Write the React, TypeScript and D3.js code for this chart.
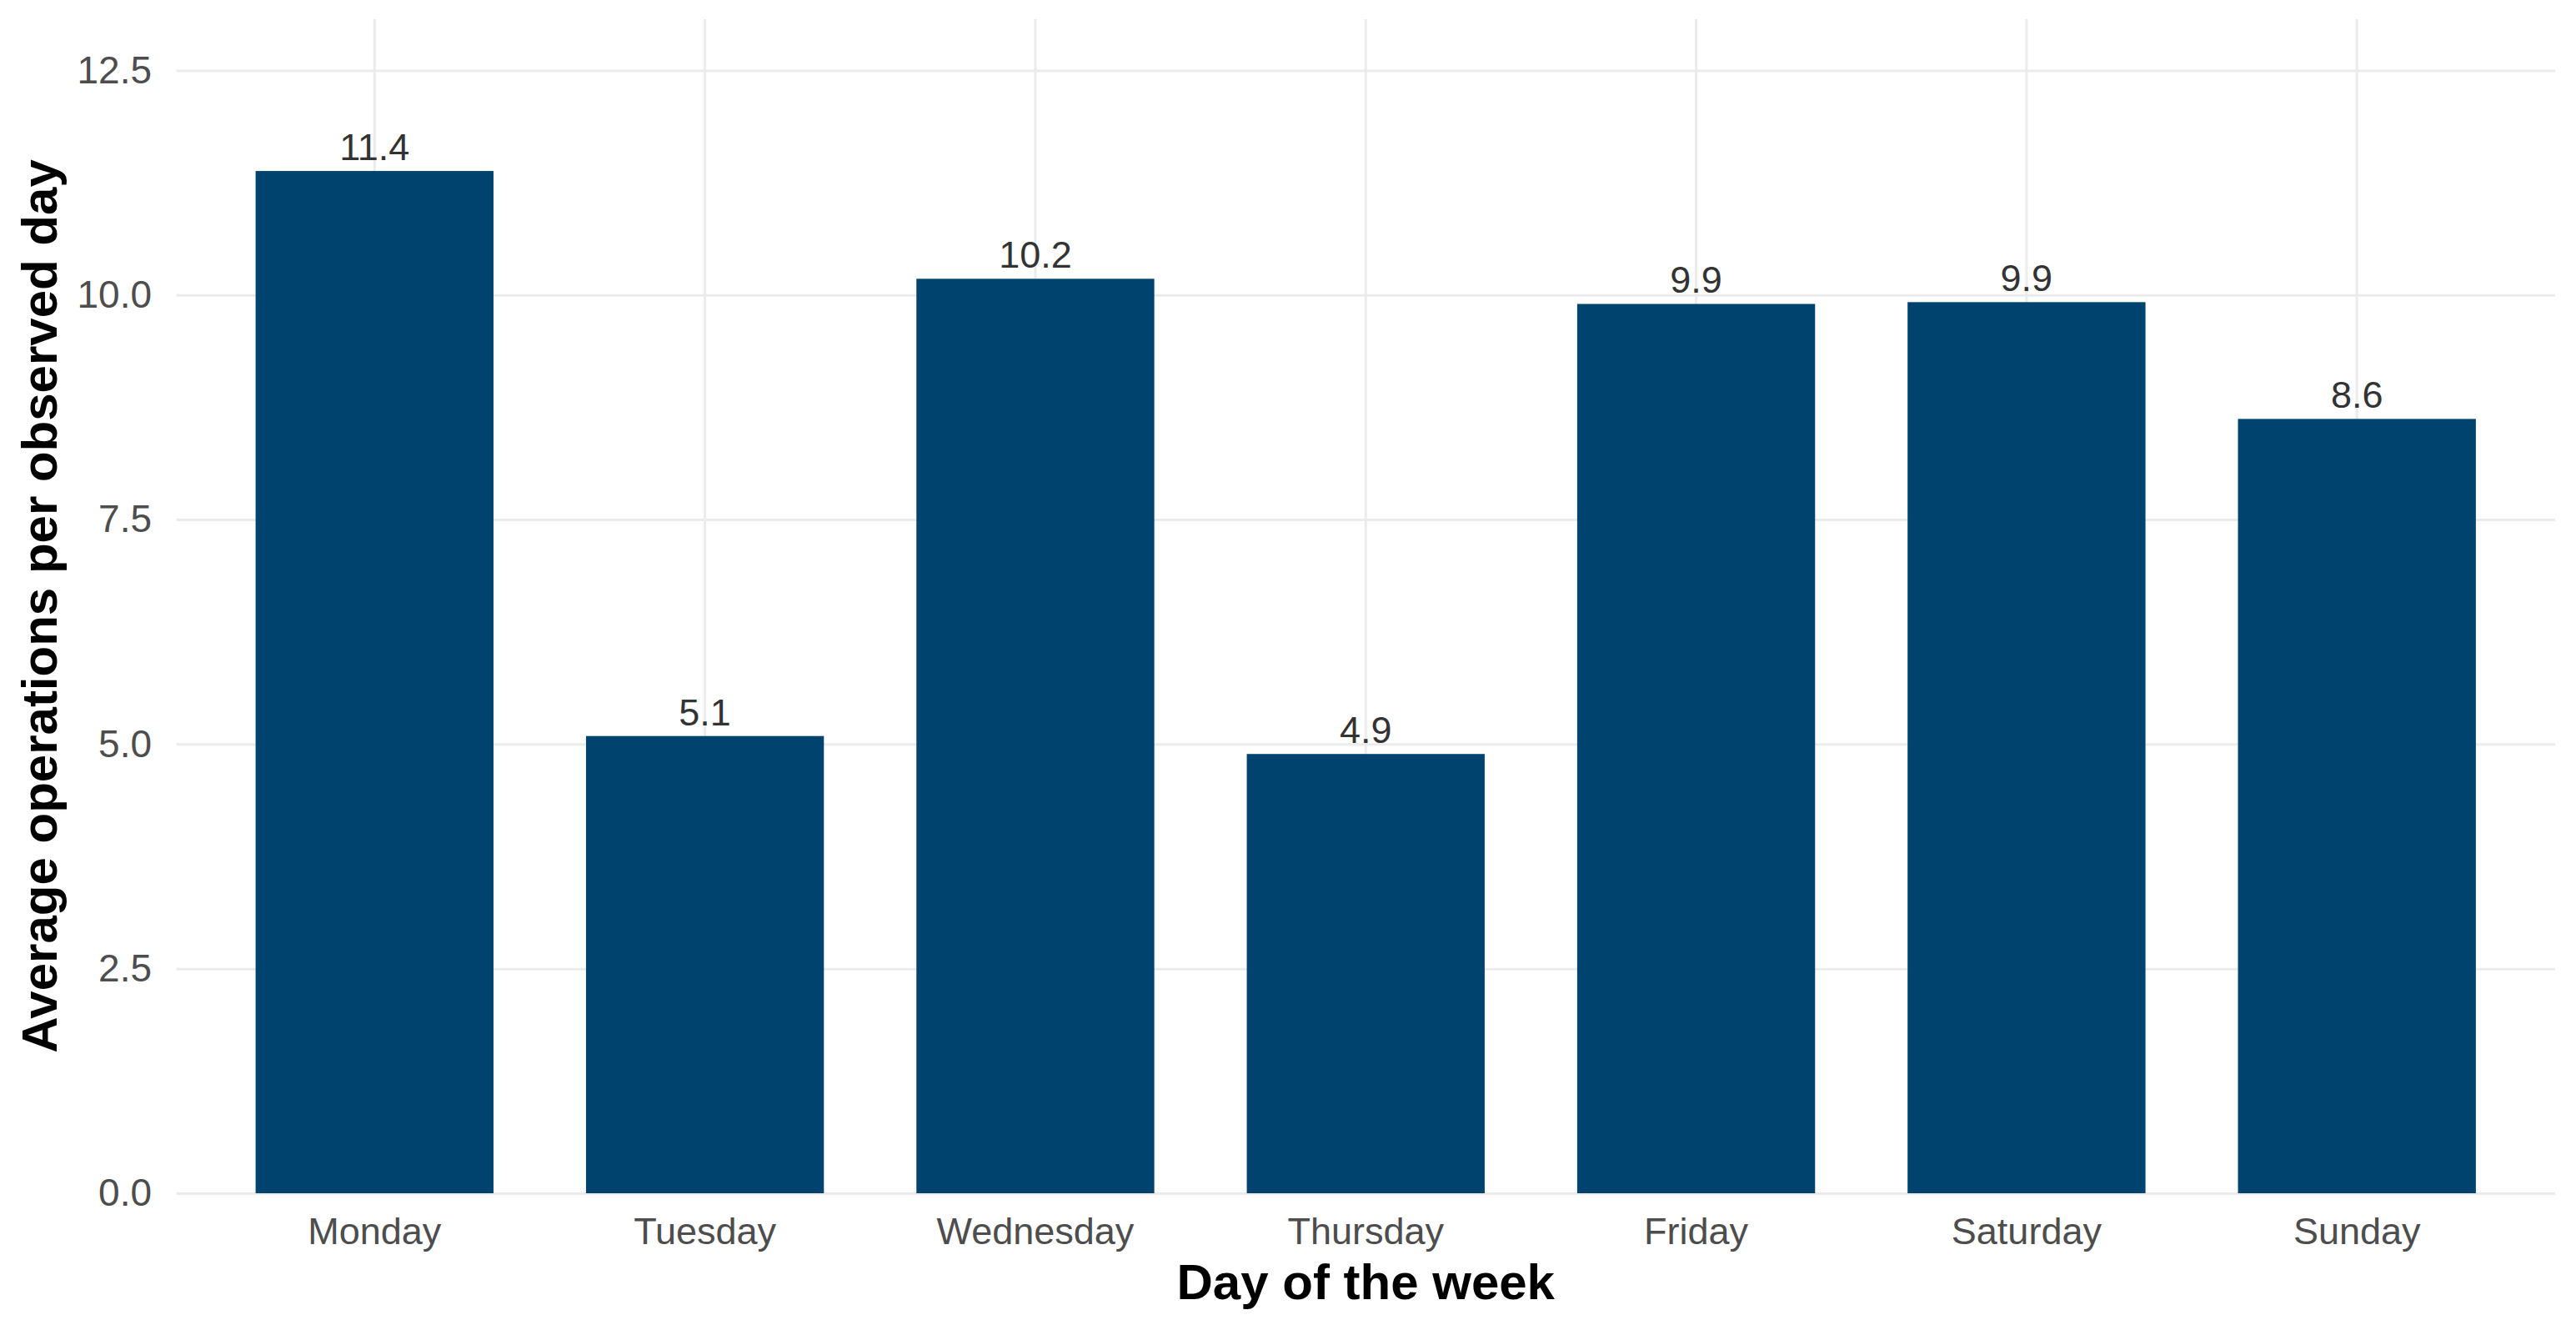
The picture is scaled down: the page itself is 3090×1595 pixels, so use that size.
import React, { useEffect, useRef } from 'react';
import * as d3 from 'd3';

// Chart data
const days: string[] = ['Monday', 'Tuesday', 'Wednesday', 'Thursday', 'Friday', 'Saturday', 'Sunday'];
const avgOperations: number[] = [11.38, 5.09, 10.18, 4.89, 9.9, 9.92, 8.62];
const yTicks: number[] = [0, 2.5, 5, 7.5, 10, 12.5];

const App: React.FC = () => {
  const chartRef = useRef<SVGSVGElement | null>(null);

  useEffect(() => {
    document.body.style.margin = '0';
    const svgEl = d3.select(chartRef.current);
    svgEl.selectAll('*').remove();

    const width = 3090;
    const height = 1595;
    const panel = { left: 211.5, right: 3065, top: 23, bottom: 1431 };
    const font = '"Liberation Sans", Arial, sans-serif';

    svgEl.attr('width', width).attr('height', height).style('display', 'block');
    svgEl.append('rect').attr('width', width).attr('height', height).attr('fill', '#ffffff');

    const xScale = d3
      .scaleBand()
      .domain(days)
      .range([panel.left, panel.right])
      .paddingInner(0.28)
      .paddingOuter(0.24);

    const yScale = d3.scaleLinear().domain([0, 13.07]).range([panel.bottom, panel.top]);

    // Y axis with horizontal gridlines
    const yAxis = d3
      .axisLeft(yScale)
      .tickValues(yTicks)
      .tickSize(-(panel.right - panel.left))
      .tickPadding(29.5)
      .tickFormat((d) => d3.format('.1f')(d as number));

    const gy = svgEl.append('g').attr('transform', `translate(${panel.left},0)`).call(yAxis);
    gy.select('.domain').remove();
    gy.selectAll('line').attr('stroke', '#ebebeb').attr('stroke-width', 3);
    gy.selectAll('text')
      .attr('fill', '#4d4d4d')
      .style('font-family', font)
      .style('font-size', '46px');

    // X axis with vertical gridlines
    const xAxis = d3
      .axisBottom(xScale)
      .tickSize(-(panel.bottom - panel.top))
      .tickPadding(29);

    const gx = svgEl.append('g').attr('transform', `translate(0,${panel.bottom})`).call(xAxis);
    gx.select('.domain').remove();
    gx.selectAll('line').attr('stroke', '#ebebeb').attr('stroke-width', 3);
    gx.selectAll('text')
      .attr('fill', '#4d4d4d')
      .style('font-family', font)
      .style('font-size', '45px');

    // Bars
    svgEl
      .selectAll('.bar')
      .data(days)
      .enter()
      .append('rect')
      .attr('class', 'bar')
      .attr('x', (d) => xScale(d)!)
      .attr('y', (_, i) => yScale(avgOperations[i]))
      .attr('width', xScale.bandwidth())
      .attr('height', (_, i) => yScale(0) - yScale(avgOperations[i]))
      .attr('fill', '#00436e');

    // Value labels
    svgEl
      .selectAll('.value')
      .data(days)
      .enter()
      .append('text')
      .attr('class', 'value')
      .attr('x', (d) => xScale(d)! + xScale.bandwidth() / 2)
      .attr('y', (_, i) => yScale(avgOperations[i]) - 13)
      .attr('text-anchor', 'middle')
      .attr('fill', '#333333')
      .style('font-family', font)
      .style('font-size', '45px')
      .text((_, i) => d3.format('.1f')(avgOperations[i]));

    // Axis titles
    svgEl
      .append('text')
      .attr('x', (panel.left + panel.right) / 2)
      .attr('y', 1558)
      .attr('text-anchor', 'middle')
      .attr('fill', '#000000')
      .style('font-family', font)
      .style('font-weight', 'bold')
      .style('font-size', '60px')
      .text('Day of the week');

    svgEl
      .append('text')
      .attr('transform', `translate(68,${(panel.top + panel.bottom) / 2}) rotate(-90)`)
      .attr('text-anchor', 'middle')
      .attr('fill', '#000000')
      .style('font-family', font)
      .style('font-weight', 'bold')
      .style('font-size', '60px')
      .text('Average operations per observed day');
  }, []);

  return <svg ref={chartRef}></svg>;
};

export default App;
